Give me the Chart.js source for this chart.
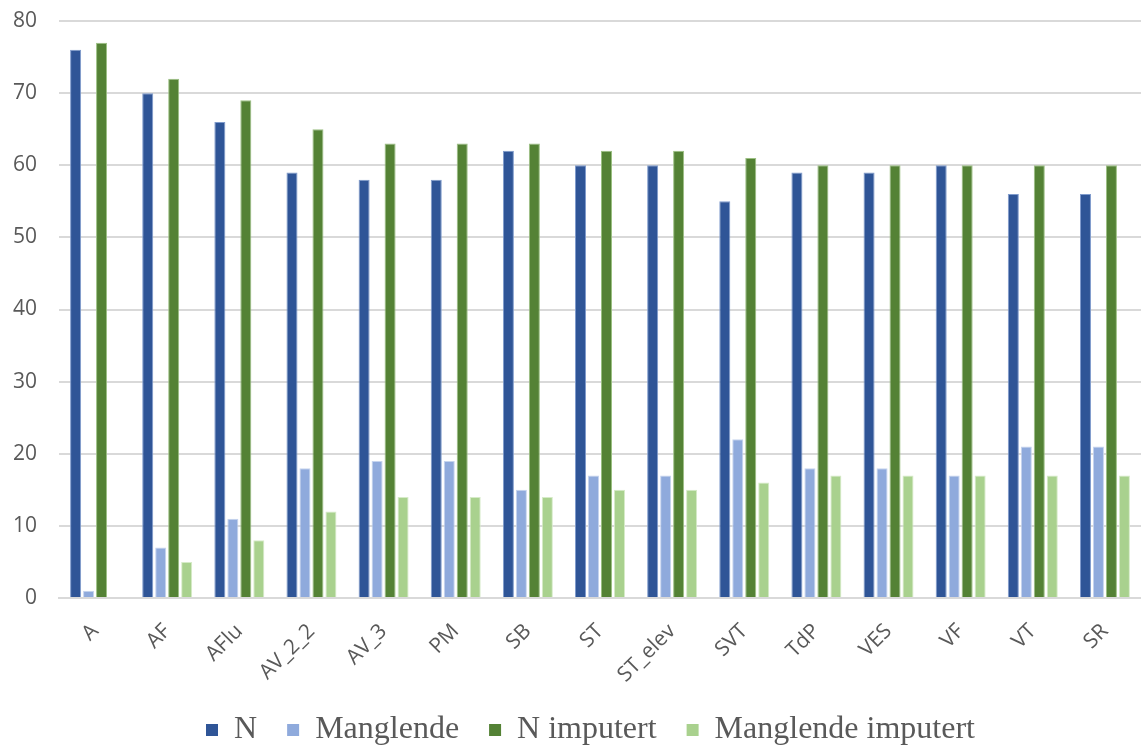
<!DOCTYPE html>
<html>
<head>
<meta charset="utf-8">
<script src="https://cdn.jsdelivr.net/npm/chart.js@4"></script>
<style>
  html, body { margin: 0; padding: 0; background: #fff; }
  #wrap { width: 1141px; height: 746px; }
</style>
</head>
<body>
<div id="wrap"><canvas id="rhythmChart"></canvas></div>
<script>
// Rytmeklasser og antall per serie
const categories = ['A', 'AF', 'AFlu', 'AV_2_2', 'AV_3', 'PM', 'SB', 'ST', 'ST_elev', 'SVT', 'TdP', 'VES', 'VF', 'VT', 'SR'];
const nValues = [76, 70, 66, 59, 58, 58, 62, 60, 60, 55, 59, 59, 60, 56, 56];
const missingValues = [1, 7, 11, 18, 19, 19, 15, 17, 17, 22, 18, 18, 17, 21, 21];
const nImputed = [77, 72, 69, 65, 63, 63, 63, 62, 62, 61, 60, 60, 60, 60, 60];
const missingImputed = [0, 5, 8, 12, 14, 14, 14, 15, 15, 16, 17, 17, 17, 17, 17];
const yTicks = [0, 10, 20, 30, 40, 50, 60, 70, 80];

const seriesDefs = [
  { label: 'N', data: nValues, color: '#2F5597', edge: '#7f9bcc' },
  { label: 'Manglende', data: missingValues, color: '#8FAADC', edge: '#c6d4ee' },
  { label: 'N imputert', data: nImputed, color: '#548235', edge: '#9cc083' },
  { label: 'Manglende imputert', data: missingImputed, color: '#A9D18E', edge: '#d6ebc8' },
];

const textGrey = '#595959';
const gridGrey = '#d9d9d9';

// moves the legend a bit right and up after layout
const legendNudge = {
  id: 'legendNudge',
  afterLayout(chart) {
    const lg = chart.legend;
    if (!lg) return;
    const dx = 20, dy = -14;
    lg.left += dx; lg.right += dx;
    lg.top += dy; lg.bottom += dy;
  }
};

const ctx = document.getElementById('rhythmChart').getContext('2d');
const chart = new Chart(ctx, {
  type: 'bar',
  data: {
    labels: categories,
    datasets: seriesDefs.map(s => ({
      label: s.label,
      data: s.data,
      backgroundColor: s.color,
      borderColor: s.edge,
      borderWidth: 1,
      barPercentage: 0.85,
      categoryPercentage: 0.72,
    }))
  },
  plugins: [legendNudge],
  options: {
    responsive: true,
    maintainAspectRatio: false,
    animation: false,
    layout: { padding: { top: 21, right: 0, left: 0, bottom: -24 } },
    plugins: {
      tooltip: { enabled: false },
      legend: {
        position: 'bottom',
        labels: {
          color: textGrey,
          font: { family: '"Liberation Serif", "Times New Roman", serif', size: 32 },
          boxWidth: 12,
          boxHeight: 12,
          padding: 30,
          generateLabels(chart) {
            return chart.data.datasets.map((ds, i) => ({
              text: ds.label,
              fillStyle: ds.backgroundColor,
              strokeStyle: ds.backgroundColor,
              lineWidth: 0,
              fontColor: textGrey,
              datasetIndex: i,
              hidden: false,
            }));
          }
        }
      }
    },
    scales: {
      x: {
        grid: { display: false, drawTicks: false },
        border: { display: true, color: gridGrey, width: 2 },
        afterFit(scale) {
          scale.height = 100;
          scale.paddingLeft = 0;
          scale.paddingRight = 0;
        },
        ticks: {
          color: textGrey,
          font: { family: '"Open Sans", "Noto Sans", sans-serif', size: 21 },
          minRotation: 45,
          maxRotation: 45,
          padding: 21,
        }
      },
      y: {
        min: 0,
        max: 80,
        afterBuildTicks(scale) { scale.ticks = yTicks.map(v => ({ value: v })); },
        afterFit(scale) {
          scale.width = 59;
          scale.paddingTop = 0;
          scale.paddingBottom = 0;
        },
        grid: { color: gridGrey, lineWidth: 2, drawTicks: false },
        border: { display: false },
        ticks: {
          color: textGrey,
          font: { family: '"Open Sans", "Noto Sans", sans-serif', size: 21 },
          padding: 22,
        }
      }
    }
  }
});
</script>
</body>
</html>
